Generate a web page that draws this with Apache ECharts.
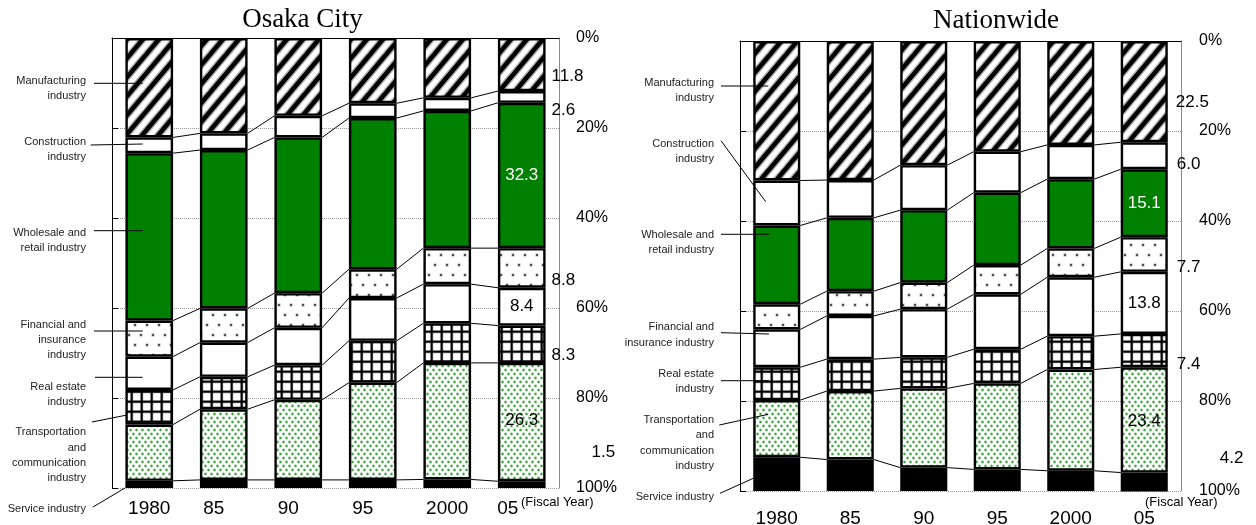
<!DOCTYPE html>
<html>
<head>
<meta charset="utf-8">
<script src="https://cdn.jsdelivr.net/npm/echarts@6/dist/echarts.min.js"></script>
<style>
  html, body { margin: 0; padding: 0; background: #fff; }
  #chart { width: 1256px; height: 525px; }
</style>
</head>
<body>
<div id="chart"></div>
<script>
// Fiscal years on the category axis
const years = ['1980', '85', '90', '95', '2000', '05'];

// Industry segments, stacked top to bottom
const industries = [
  'Manufacturing industry',
  'Construction industry',
  'Wholesale and retail industry',
  'Financial and insurance industry',
  'Real estate industry',
  'Transportation and communication industry',
  'Service industry',
  'Other industries'
];

// Osaka City, share of output (%)
const osakaManufacturing = [22.1, 21.2, 17.3, 14.5, 13.3, 11.8];
const osakaConstruction  = [3.5, 3.7, 4.8, 3.3, 2.9, 2.6];
const osakaWholesale     = [37.2, 35.2, 34.6, 33.6, 30.5, 32.3];
const osakaFinancial     = [8.0, 7.6, 7.7, 6.4, 8.0, 8.8];
const osakaRealEstate    = [7.4, 7.6, 8.3, 9.5, 8.7, 8.4];
const osakaTransport     = [7.7, 7.2, 7.7, 9.3, 8.8, 8.3];
const osakaService       = [12.5, 15.7, 17.8, 21.6, 25.9, 26.3];
const osakaOther         = [1.6, 1.8, 1.8, 1.8, 1.9, 1.5];

// Nationwide, share of output (%)
const nationManufacturing = [31.0, 30.9, 27.6, 24.6, 23.1, 22.5];
const nationConstruction  = [10.0, 8.4, 10.0, 9.1, 7.6, 6.0];
const nationWholesale     = [17.5, 16.3, 16.1, 16.1, 15.4, 15.1];
const nationFinancial     = [5.6, 5.5, 5.9, 6.5, 6.4, 7.7];
const nationRealEstate    = [8.4, 9.6, 10.7, 12.2, 13.1, 13.8];
const nationTransport     = [7.3, 7.1, 6.9, 7.6, 7.4, 7.4];
const nationService       = [12.7, 15.2, 17.6, 19.1, 22.5, 23.4];
const nationOther         = [7.5, 7.0, 5.2, 4.8, 4.5, 4.2];

// Percent ticks on the value axis
const percentTicks = [0, 20, 40, 60, 80, 100];

const osakaSeries = [osakaManufacturing, osakaConstruction, osakaWholesale, osakaFinancial,
  osakaRealEstate, osakaTransport, osakaService, osakaOther];
const nationSeries = [nationManufacturing, nationConstruction, nationWholesale, nationFinancial,
  nationRealEstate, nationTransport, nationService, nationOther];

const SANS = '"Liberation Sans", Arial, sans-serif';
const SERIF = '"Liberation Serif", "Times New Roman", serif';

// ---- fill patterns ----
function tile(w, h, draw) {
  const c = document.createElement('canvas');
  c.width = w; c.height = h;
  const ctx = c.getContext('2d');
  ctx.fillStyle = '#fff';
  ctx.fillRect(0, 0, w, h);
  draw(ctx, w, h);
  return { image: c, repeat: 'repeat' };
}
const hatchFill = tile(16, 19, (ctx, w, h) => {
  const lines = (lw, col) => {
    ctx.strokeStyle = col; ctx.lineWidth = lw;
    for (let n = 0; n <= 2; n++) {
      ctx.beginPath();
      ctx.moveTo(n * w + w, -h);
      ctx.lineTo(n * w - 2 * w, 2 * h);
      ctx.stroke();
    }
  };
  lines(7.5, 'rgba(0,0,0,0.3)');
  lines(4.6, '#000');
});
const dotFill = tile(12, 20, (ctx) => {
  [[3, 5], [9, 15]].forEach(([x, y]) => {
    ctx.fillStyle = 'rgba(0,0,0,0.2)';
    ctx.beginPath(); ctx.arc(x, y, 1.9, 0, Math.PI * 2); ctx.fill();
    ctx.fillStyle = '#333';
    ctx.beginPath(); ctx.arc(x, y, 1.1, 0, Math.PI * 2); ctx.fill();
  });
});
const gridFill = tile(10, 10, (ctx) => {
  ctx.fillStyle = 'rgba(0,0,0,0.25)';
  ctx.fillRect(0, 0, 10, 3.4);
  ctx.fillRect(0, 0, 3.4, 10);
  ctx.fillStyle = '#000';
  ctx.fillRect(0.7, 0, 2, 10);
  ctx.fillRect(0, 0.7, 10, 2);
});
const greenDotFill = tile(6, 8, (ctx) => {
  [[1.5, 2], [4.5, 6]].forEach(([x, y]) => {
    ctx.fillStyle = 'rgba(40,150,40,0.35)';
    ctx.beginPath(); ctx.arc(x, y, 1.7, 0, Math.PI * 2); ctx.fill();
    ctx.fillStyle = '#2f9a2f';
    ctx.beginPath(); ctx.arc(x, y, 1.0, 0, Math.PI * 2); ctx.fill();
  });
});
const segmentFills = [hatchFill, '#fff', '#008000', dotFill, '#fff', gridFill, greenDotFill, '#000'];

// Value labels on the latest year's bar: [position, distance, dx, dy, colour]
const osakaLabelStyle = [
  ['right', 6, 0, 12, '#000'],
  ['right', 6, 0, 13, '#000'],
  ['inside', 0, 0, 0, '#fff'],
  ['right', 6, 0, 12, '#000'],
  ['inside', 0, 0, 0, '#000'],
  ['right', 6, 0, 11, '#000'],
  ['inside', 0, 0, -2, '#000'],
  ['right', 46, 0, -32, '#000']
];
const nationLabelStyle = [
  ['right', 8, 0, 11, '#000'],
  ['right', 9, 0, 9, '#000'],
  ['inside', 0, 0, 0, '#fff'],
  ['right', 9, 0, 13, '#000'],
  ['inside', 0, 0, 0, '#000'],
  ['right', 9, 0, 14, '#000'],
  ['inside', 0, 0, 1, '#000'],
  ['right', 52, 0, -24, '#000']
];

function barSeries(values, k, gridIdx, stack, labelStyle) {
  const last = values.length - 1;
  const [pos, dist, dx, dy, col] = labelStyle[k];
  return {
    type: 'bar',
    name: industries[k],
    stack: stack,
    xAxisIndex: gridIdx,
    yAxisIndex: gridIdx * 2,
    barWidth: '64%',
    itemStyle: { color: segmentFills[k], borderColor: '#000', borderWidth: 2.4 },
    emphasis: { disabled: true },
    z: 3,
    data: values.map((v, i) => i === last ? {
      value: v,
      label: {
        show: true, position: pos, distance: dist, offset: [dx, dy],
        color: col, fontSize: 17, fontFamily: SANS,
        formatter: (p) => p.value.toFixed(1)
      }
    } : v)
  };
}

// Cumulative boundaries per year, used by the connector lines between bars
function cumulative(seriesList) {
  return years.map((_, i) => {
    let s = 0;
    const out = [];
    for (let k = 0; k < seriesList.length - 1; k++) { s += seriesList[k][i]; out.push(s); }
    return out;
  });
}
function connectorSeries(seriesList, gridIdx) {
  const cum = cumulative(seriesList);
  const n = cum[0].length;
  const data = [];
  for (let i = 0; i < years.length - 1; i++) data.push([i].concat(cum[i], cum[i + 1]));
  return {
    type: 'custom',
    xAxisIndex: gridIdx,
    yAxisIndex: gridIdx * 2,
    silent: true,
    z: 2,
    encode: { x: 0, y: 1 },
    data: data,
    renderItem(params, api) {
      const i = api.value(0);
      const half = api.size([1, 0])[0] * 0.32;
      const children = [];
      for (let k = 1; k <= n; k++) {
        const a = api.coord([i, api.value(k)]);
        const b = api.coord([i + 1, api.value(k + n)]);
        children.push({
          type: 'line',
          shape: { x1: a[0] + half, y1: a[1], x2: b[0] - half, y2: b[1] },
          style: { stroke: '#000', lineWidth: 1 }
        });
      }
      return { type: 'group', children };
    }
  };
}

function valueAxes(gridIdx, labelMargin) {
  const base = { gridIndex: gridIdx, type: 'value', inverse: true,
    min: percentTicks[0], max: percentTicks[percentTicks.length - 1], interval: 20 };
  return [
    Object.assign({}, base, {
      position: 'left',
      axisLine: { show: true, lineStyle: { color: '#000', width: 1 } },
      axisTick: { show: true, inside: true, length: 6, lineStyle: { color: '#000' } },
      axisLabel: { show: false },
      splitLine: { show: true, lineStyle: { type: 'dotted', color: '#999', width: 1 } }
    }),
    Object.assign({}, base, {
      position: 'right',
      axisLine: { show: true, lineStyle: { color: '#888', width: 1 } },
      axisTick: { show: false },
      axisLabel: { show: true, margin: labelMargin, fontSize: 16, color: '#000',
        fontFamily: SANS, formatter: '{value}%' },
      splitLine: { show: false }
    })
  ];
}

function categoryAxis(gridIdx, margin, shifted) {
  return {
    gridIndex: gridIdx,
    type: 'category',
    data: years,
    axisLine: { show: true, lineStyle: { color: '#000', width: 1 } },
    axisTick: { show: false },
    axisLabel: {
      interval: 0, margin: margin, color: '#000', fontSize: 19, fontFamily: SANS,
      formatter: (v, i) => {
        if (!shifted) return '{n|' + v + '}';
        if (i === years.length - 1) return '{e|' + v + '}';
        return v.length === 2 ? '{s|' + v + '}' : '{n|' + v + '}';
      },
      rich: {
        n: { fontSize: 19, fontFamily: SANS, color: '#000' },
        s: { fontSize: 19, fontFamily: SANS, color: '#000', padding: [0, 20, 0, 0] },
        e: { fontSize: 19, fontFamily: SANS, color: '#000', padding: [0, 28, 0, 0] }
      }
    }
  };
}

// Side captions with leader lines into the first bar
const osakaCaptions = [
  ['Manufacturing\nindustry', 88.3, [94, 83.3, 142.7, 83.3]],
  ['Construction\nindustry', 149.2, [90.7, 145, 142.7, 144]],
  ['Wholesale and\nretail industry', 240.8, [94, 230.7, 142.7, 230.7]],
  ['Financial and\ninsurance\nindustry', 340, [94, 331, 142.7, 331]],
  ['Real estate\nindustry', 394.2, [95, 377.3, 142.7, 377.3]],
  ['Transportation\nand\ncommunication\nindustry', 455.3, [92, 422, 127, 415]],
  ['Service industry', 509.3, [93, 507, 125, 488]]
];
const nationCaptions = [
  ['Manufacturing\nindustry', 90.3, [721, 86, 768.3, 86]],
  ['Construction\nindustry', 151.7, [721, 140.7, 765.7, 201.7]],
  ['Wholesale and\nretail industry', 242.8, [721, 234.3, 769.3, 234.3]],
  ['Financial and\ninsurance industry', 335, [721, 332.7, 769, 334]],
  ['Real estate\nindustry', 381.2, [721, 380.7, 769, 380.7]],
  ['Transportation\nand\ncommunication\nindustry', 442.9, [719.3, 425, 768.3, 414.3]],
  ['Service industry', 497.3, [720, 493.3, 753.3, 478.3]]
];

function captionGraphics(list, rightX) {
  const out = [];
  list.forEach(([txt, cy, ln]) => {
    out.push({
      type: 'text', x: rightX, y: cy, z: 10,
      style: { text: txt, fill: '#222', font: '11px ' + SANS, align: 'right',
        verticalAlign: 'middle', lineHeight: 15.3 }
    });
    out.push({
      type: 'line', z: 10,
      shape: { x1: ln[0], y1: ln[1], x2: ln[2], y2: ln[3] },
      style: { stroke: '#000', lineWidth: 1 }
    });
  });
  return out;
}

const chart = echarts.init(document.getElementById('chart'), null, { renderer: 'canvas' });

const series = [];
osakaSeries.forEach((vals, k) => series.push(barSeries(vals, k, 0, 'osaka', osakaLabelStyle)));
nationSeries.forEach((vals, k) => series.push(barSeries(vals, k, 1, 'nation', nationLabelStyle)));
series.push(connectorSeries(osakaSeries, 0));
series.push(connectorSeries(nationSeries, 1));

chart.setOption({
  animation: false,
  backgroundColor: '#fff',
  grid: [
    { left: 112, top: 38, width: 447, height: 450, outerBoundsMode: 'none', containLabel: false },
    { left: 740, top: 41, width: 441, height: 450, outerBoundsMode: 'none', containLabel: false }
  ],
  xAxis: [categoryAxis(0, 11, true), categoryAxis(1, 18, false)],
  yAxis: valueAxes(0, 17).concat(valueAxes(1, 18)),
  series: series,
  graphic: [
    { type: 'text', x: 302.5, y: 19.5, style: { text: 'Osaka City', font: '27px ' + SERIF,
      fill: '#000', align: 'center', verticalAlign: 'middle' } },
    { type: 'text', x: 996, y: 21, style: { text: 'Nationwide', font: '27px ' + SERIF,
      fill: '#000', align: 'center', verticalAlign: 'middle' } },
    { type: 'text', x: 521, y: 502, style: { text: '(Fiscal Year)', font: '13px ' + SANS,
      fill: '#000', align: 'left', verticalAlign: 'middle' } },
    { type: 'text', x: 1145, y: 502, style: { text: '(Fiscal Year)', font: '13px ' + SANS,
      fill: '#000', align: 'left', verticalAlign: 'middle' } }
  ].concat(captionGraphics(osakaCaptions, 86), captionGraphics(nationCaptions, 714))
});
</script>
</body>
</html>
